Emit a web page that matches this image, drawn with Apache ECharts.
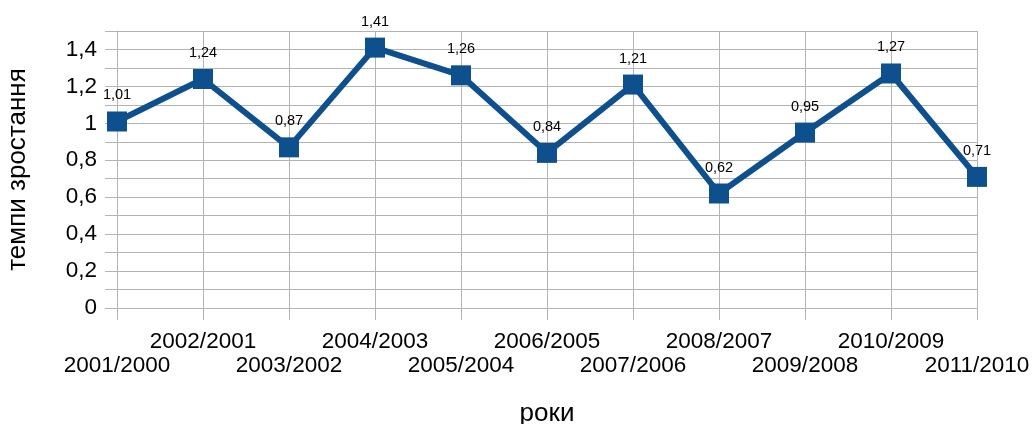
<!DOCTYPE html>
<html><head><meta charset="utf-8">
<script src="https://cdn.jsdelivr.net/npm/echarts@6/dist/echarts.min.js"></script>
<style>html,body{margin:0;padding:0;background:#fff}#c{width:1034px;height:424px}</style>
</head><body><div id="c"></div>
<script>
var categories = ['2001/2000','2002/2001','2003/2002','2004/2003','2005/2004','2006/2005','2007/2006','2008/2007','2009/2008','2010/2009','2011/2010'];
var values = [1.01,1.24,0.87,1.41,1.26,0.84,1.21,0.62,0.95,1.27,0.71];
var yTicks = [0,0.2,0.4,0.6,0.8,1,1.2,1.4];
var xTitle = 'роки';
var yTitle = 'темпи зростання';

var fmt = function(v){ return String(v).replace('.', ','); };
var chart = echarts.init(document.getElementById('c'));
chart.setOption({
  animation:false,
  grid:{left:117,right:57,top:31,bottom:116,containLabel:false,outerBoundsMode:'none'},
  xAxis:{
    type:'category', data:categories, boundaryGap:false,
    name:xTitle, nameLocation:'middle', nameGap:93,
    nameTextStyle:{fontFamily:'Liberation Sans',fontSize:26,color:'#000'},
    axisLine:{lineStyle:{color:'#b3b3b3',width:1}},
    axisTick:{show:true,length:12,inside:false,lineStyle:{color:'#b3b3b3'},interval:0},
    splitLine:{show:true,lineStyle:{color:'#b3b3b3',width:1}},
    axisLabel:{interval:0,margin:22,fontFamily:'Liberation Sans',fontSize:22.5,color:'#000',lineHeight:24,
      formatter:function(v,i){ return i%2===1 ? v+'\n ' : ' \n'+v; }}
  },
  yAxis:{
    type:'value', min:0, max:1.5, interval:0.1,
    name:yTitle, nameLocation:'middle', nameRotate:90, nameGap:86,
    nameTextStyle:{fontFamily:'Liberation Sans',fontSize:26,color:'#000'},
    axisLine:{show:true,lineStyle:{color:'#b3b3b3',width:1}},
    axisTick:{show:true,length:12,inside:false,lineStyle:{color:'#b3b3b3'}},
    splitLine:{show:true,lineStyle:{color:'#b3b3b3',width:1}},
    axisLabel:{margin:20,fontFamily:'Liberation Sans',fontSize:22.5,color:'#000',
      formatter:function(v){
        for (var k=0;k<yTicks.length;k++){ if (Math.abs(v-yTicks[k])<1e-6) return fmt(yTicks[k]); }
        return '';
      }}
  },
  series:[{
    type:'line', data:values, symbol:'rect', symbolSize:20,
    lineStyle:{color:'#0e4f8d',width:6},
    itemStyle:{color:'#0e4f8d'},
    label:{show:true,position:'top',distance:8.5,fontFamily:'Liberation Sans',fontSize:14.5,color:'#000',
      formatter:function(p){ return fmt(p.value); }}
  }]
});
</script></body></html>
